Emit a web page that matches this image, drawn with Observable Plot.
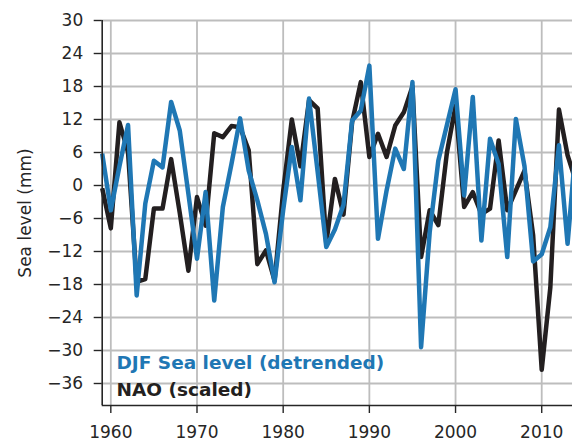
<!DOCTYPE html>
<html>
<head>
<meta charset="utf-8">
<script src="https://cdn.jsdelivr.net/npm/d3@7"></script>
<script src="https://cdn.jsdelivr.net/npm/@observablehq/plot@0.6"></script>
<style>
  html, body { margin: 0; padding: 0; background: #fff; }
  svg { display: block; }
</style>
</head>
<body>
<div id="chart"></div>
<script>
// ---- data ----
const years = [1959, 1960, 1961, 1962, 1963, 1964, 1965, 1966, 1967, 1968, 1969,
  1970, 1971, 1972, 1973, 1974, 1975, 1976, 1977, 1978, 1979,
  1980, 1981, 1982, 1983, 1984, 1985, 1986, 1987, 1988, 1989,
  1990, 1991, 1992, 1993, 1994, 1995, 1996, 1997, 1998, 1999,
  2000, 2001, 2002, 2003, 2004, 2005, 2006, 2007, 2008, 2009,
  2010, 2011, 2012, 2013, 2014];

const seaLevel = [5.8, -4.5, 3.5, 11, -20, -3.3, 4.5, 3.3, 15.2, 10, -1.5,
  -13.3, -1.2, -20.9, -3.9, 3.9, 12.2, 2.7, -2.7, -8.8, -17.6,
  -4.5, 7, -2.7, 15.8, 2.5, -11.2, -8, -3.5, 11.8, 13.6,
  21.8, -9.7, -0.9, 6.7, 3.0, 18.8, -29.4, -8.5, 4.5, 11,
  17.5, -1.8, 16.1, -10, 8.5, 3.9, -13, 12.1, 3.5, -13.8,
  -12.5, -7.6, 7.3, -10.6, 8];

const nao = [-0.5, -7.8, 11.5, 6, -17.5, -17, -4.2, -4.2, 4.8, -5, -15.5,
  -2.1, -7.3, 9.5, 8.8, 10.8, 10.6, 6.4, -14.3, -11.8, -17.3,
  -1, 12, 3.5, 15.5, 14, -10.5, 1.2, -5.3, 11.5, 18.8,
  5.2, 9.4, 5.2, 10.9, 13.3, 18, -13, -4.5, -7.2, 6,
  14.5, -3.9, -1.2, -5.2, -4.2, 8.2, -4.5, -0.9, 2.7, -9,
  -33.5, -18.5, 13.8, 5.5, 0.5];

const xTicks = [1960, 1970, 1980, 1990, 2000, 2010];
const yTicks = [30, 24, 18, 12, 6, 0, -6, -12, -18, -24, -30, -36];
const xDomain = [1959, 2014];
const yDomain = [-40, 30];
const yLabel = "Sea level (mm)";
const seaLabel = "DJF Sea level (detrended)";
const naoLabel = "NAO (scaled)";

const seaColor = "#1f77b4";
const naoColor = "#231f20";
const inkColor = "#262626";
const gridColor = "#bdbdbd";

// ---- tables ----
const seaData = years.map((year, i) => ({year, value: seaLevel[i]}));
const naoData = years.map((year, i) => ({year, value: nao[i]}));

const fmtY = d => (d < 0 ? "\u2212" + Math.abs(d) : String(d));

const chart = Plot.plot({
  width: 572,
  height: 441,
  marginLeft: 101.7,
  marginRight: 0,
  marginTop: 20,
  marginBottom: 36,
  style: {fontFamily: "DejaVu Sans", fontSize: "17px", color: inkColor, background: "#fff", overflow: "hidden"},
  x: {domain: xDomain, range: [101.7, 575.7]},
  y: {domain: yDomain, range: [405, 20]},
  marks: [
    Plot.gridY(yTicks, {stroke: gridColor, strokeOpacity: 1, strokeWidth: 1.8}),
    Plot.gridX(xTicks, {stroke: gridColor, strokeOpacity: 1, strokeWidth: 1.8}),
    Plot.line(naoData, {x: "year", y: "value", stroke: naoColor, strokeWidth: 4.5, strokeLinejoin: "round", strokeLinecap: "butt"}),
    Plot.line(seaData, {x: "year", y: "value", stroke: seaColor, strokeWidth: 4.5, strokeLinejoin: "round", strokeLinecap: "butt"}),
    Plot.ruleX([xDomain[0]], {y1: yDomain[0], y2: yDomain[1], stroke: inkColor, strokeWidth: 1.6}),
    Plot.ruleY([yDomain[0]], {stroke: inkColor, strokeWidth: 1.6}),
    Plot.axisY(yTicks, {tickSize: 8, tickPadding: 11, label: null, stroke: inkColor, strokeWidth: 1.4, fill: inkColor, tickFormat: fmtY, fontSize: 17}),
    Plot.axisX(xTicks, {tickSize: 8, tickPadding: 12, label: null, stroke: inkColor, strokeWidth: 1.4, fill: inkColor, tickFormat: d => String(d), fontSize: 17}),
    Plot.text([yLabel], {text: d => d, frameAnchor: "left", rotate: -90, dx: -77, textAnchor: "middle", lineAnchor: "middle", fill: inkColor, fontSize: 17}),
    Plot.text([seaLabel], {text: d => d, frameAnchor: "bottom-left", dx: 14.3, dy: -37, textAnchor: "start", lineAnchor: "bottom", fill: seaColor, fontWeight: "bold", fontSize: 18.5}),
    Plot.text([naoLabel], {text: d => d, frameAnchor: "bottom-left", dx: 14.3, dy: -10, textAnchor: "start", lineAnchor: "bottom", fill: naoColor, fontWeight: "bold", fontSize: 18.5})
  ]
});

document.getElementById("chart").appendChild(chart);
</script>
</body>
</html>
